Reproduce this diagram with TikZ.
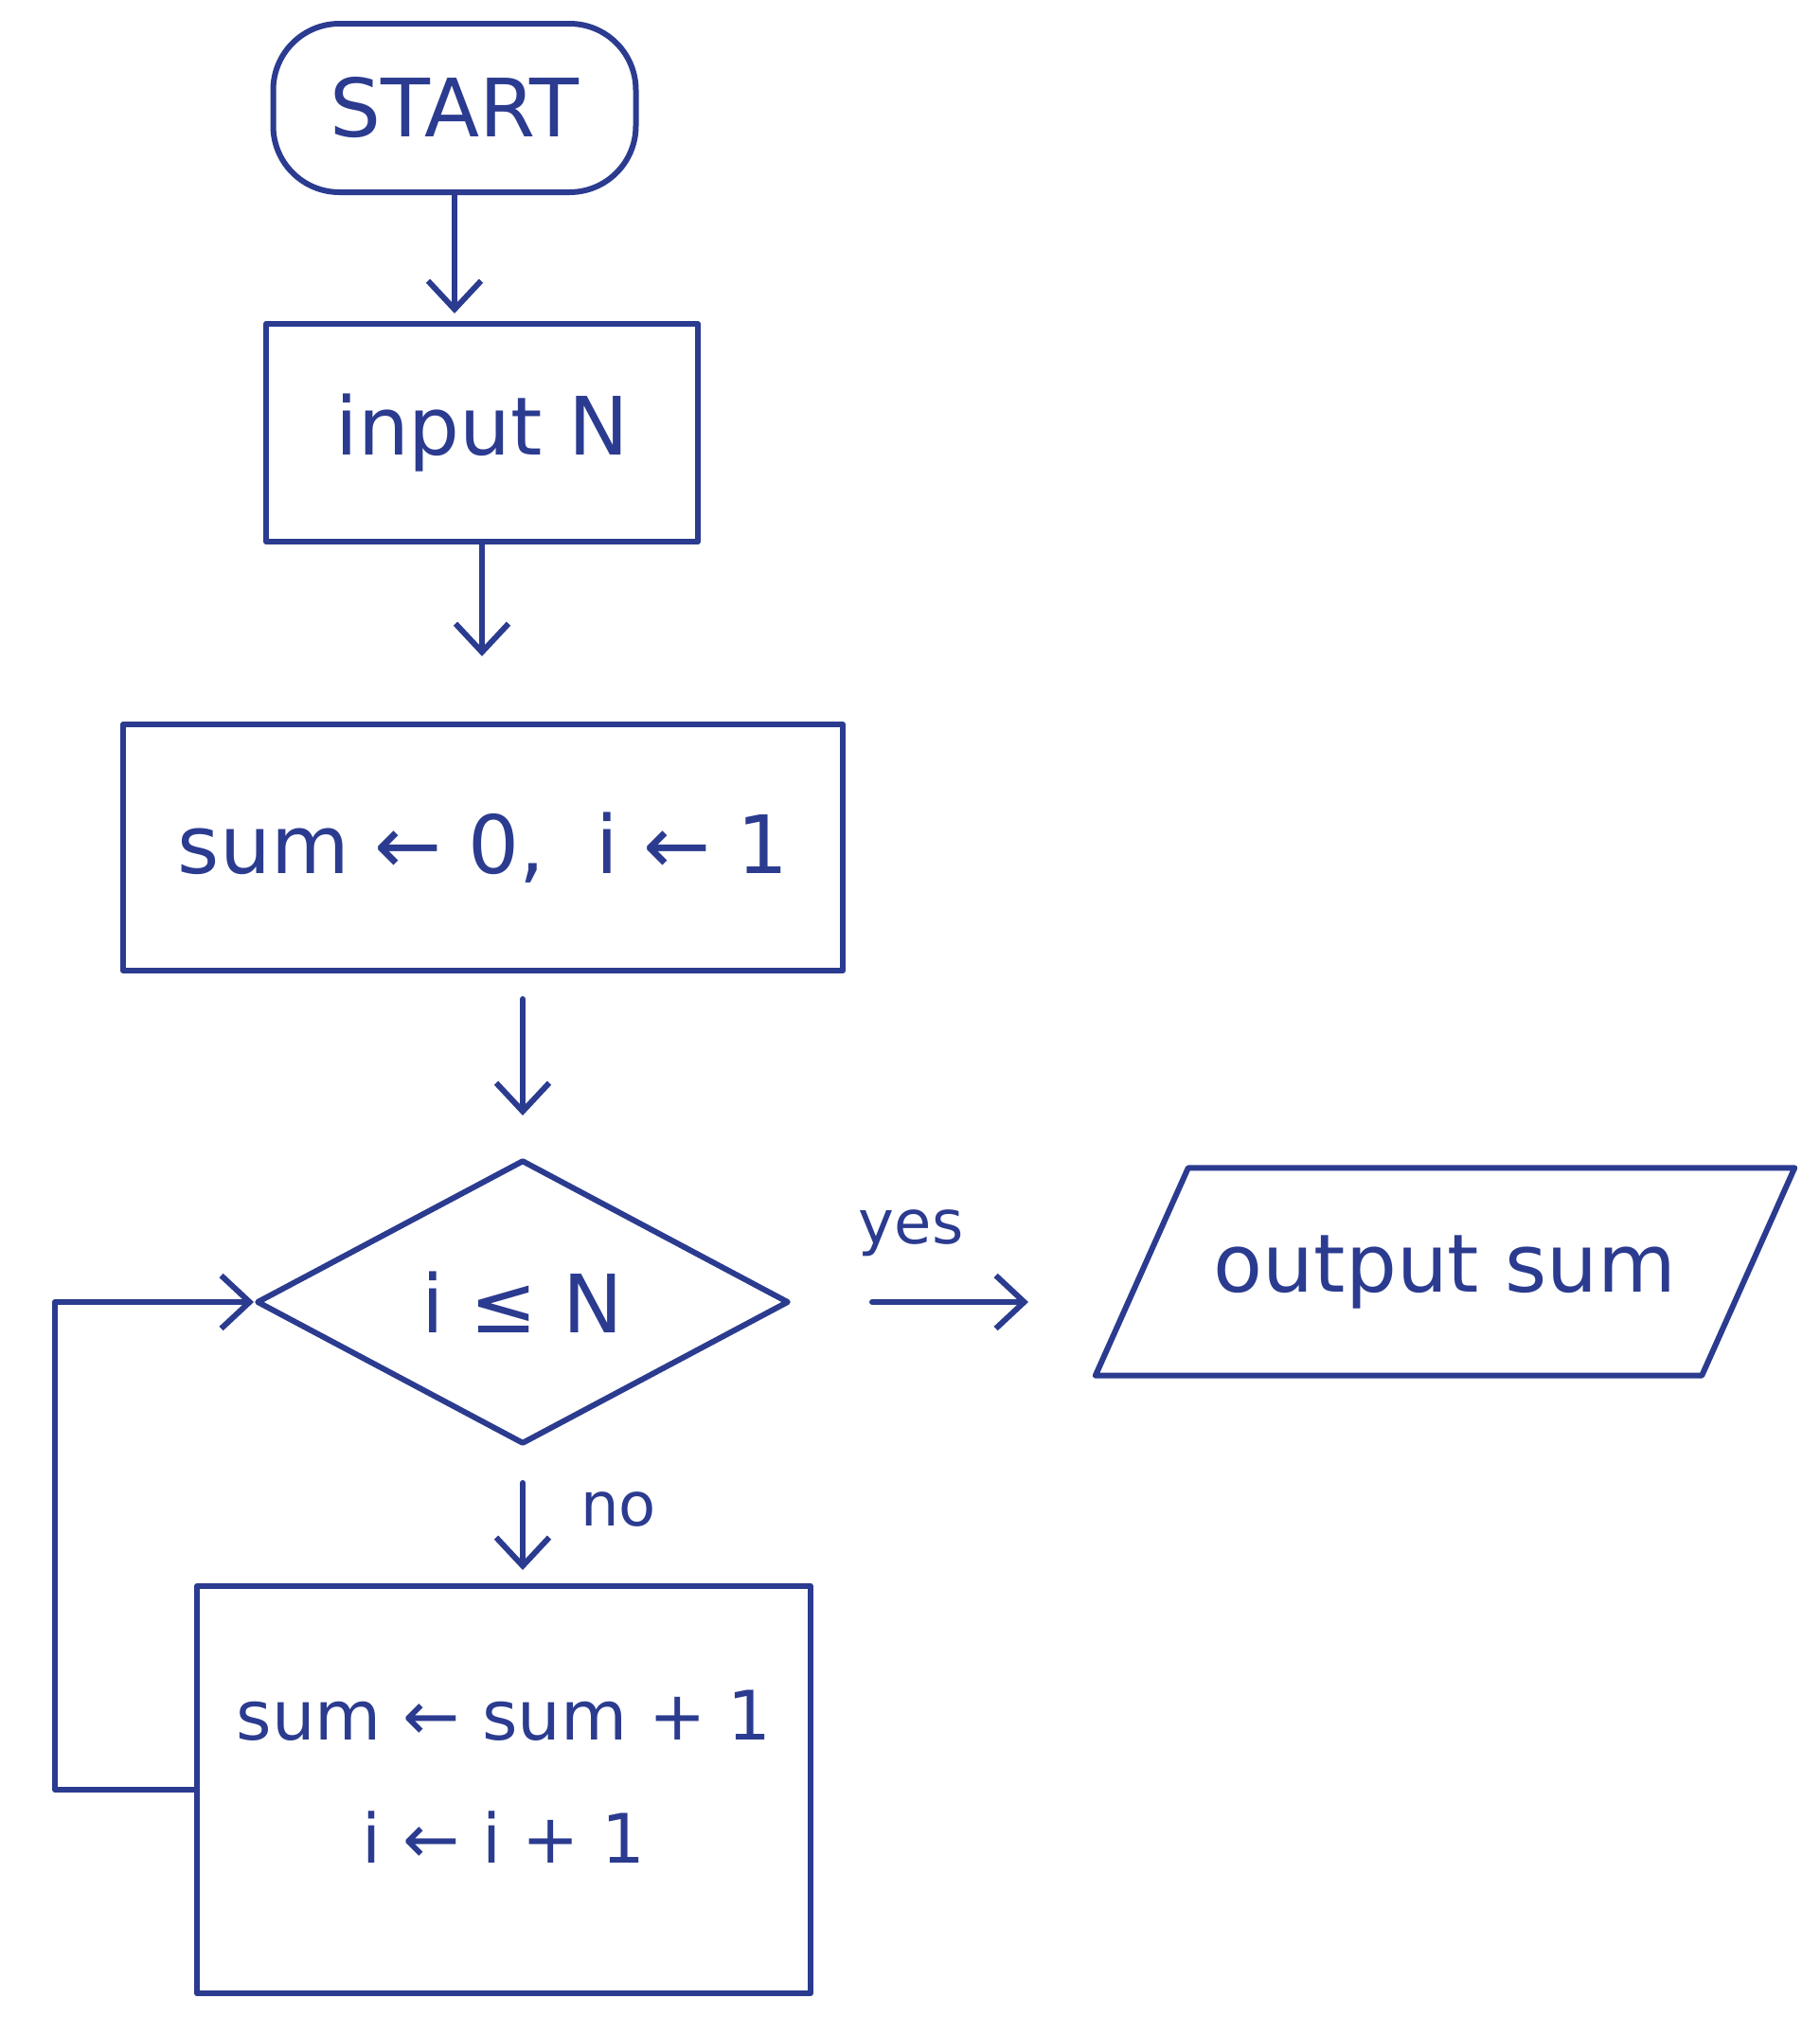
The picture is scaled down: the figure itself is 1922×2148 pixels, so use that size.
\documentclass[tikz,border=0pt]{standalone}
\usepackage{fontspec}
\setmainfont{DejaVu Sans}
\usetikzlibrary{arrows.meta,shapes.geometric}
\definecolor{ink}{HTML}{2B3B8F}
\begin{document}
\begin{tikzpicture}[x=1pt,y=-1pt,
  every node/.style={font=\fontsize{85}{100}\selectfont, text=ink},
  line/.style={draw=ink, line width=6pt, line cap=round, line join=round},
  arr/.style={line, -{Straight Barb[length=30pt,width=56pt,line width=6pt]}},
  proc/.style={line, rectangle, inner sep=0pt},
  lab/.style={font=\fontsize{64}{70}\selectfont, inner sep=0pt}
]
\useasboundingbox (0,0) rectangle (1922,2148);

\node[proc, rounded corners=70pt, minimum width=383pt, minimum height=178pt] (start) at (480,114) {START};
\node[proc, minimum width=456pt, minimum height=230pt] (input) at (509,457) {input N};
\node[proc, minimum width=760pt, minimum height=260pt] (init) at (510,895) {sum ← 0,\ \ i ← 1};
\node[line, diamond, aspect=1.87, minimum width=562pt, minimum height=300pt, inner sep=0pt] (d) at (552,1375) {i ≤ N};
\node[minimum width=640pt, minimum height=219pt, inner sep=0pt] (out) at (1526,1343) {output sum};
\draw[line] ([xshift=49pt]out.north west) -- ([xshift=49pt]out.north east) -- ([xshift=-49pt]out.south east) -- ([xshift=-49pt]out.south west) -- cycle;
\node[proc, minimum width=648pt, minimum height=430pt, align=center, font=\fontsize{72}{130}\selectfont] (lp) at (532,1890) {sum ← sum + 1\\i ← i + 1\\[-102pt]\mbox{}};
\coordinate (lx) at (58,1884);

\draw[arr, shorten >=8pt] (start.south) -- (start.south |- input.north);
\draw[arr, shorten >=69pt] (input.south) -- (input.south |- init.north);
\draw[arr, shorten <=27pt, shorten >=44pt] (d.north |- init.south) -- (d.north);
\draw[arr, shorten <=38pt, shorten >=14pt] (d.south) -- (d.south |- lp.north) node[lab, pos=0.46, right=58pt] {no};
\draw[arr] ([xshift=85pt]d.east) -- ++(165,0) node[lab, pos=0.25, above=45pt] {yes};
\draw[arr] (lp.west) -- (lp.west -| lx) |- (d.west);
\end{tikzpicture}
\end{document}
